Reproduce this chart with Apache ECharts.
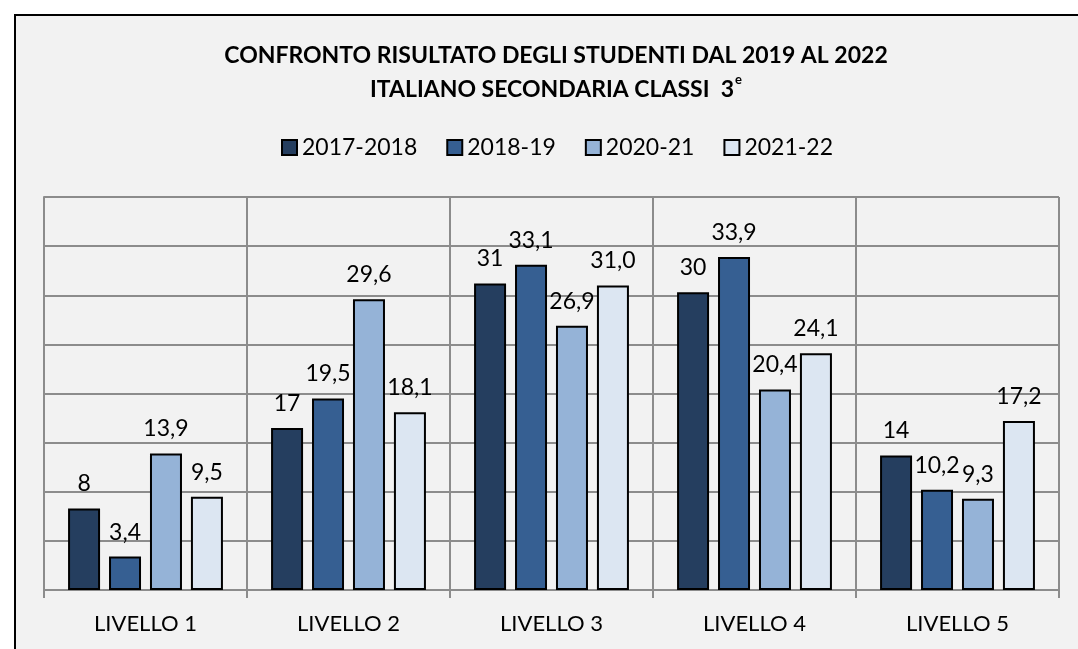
<!DOCTYPE html>
<html>
<head>
<meta charset="utf-8">
<script src="https://cdn.jsdelivr.net/npm/echarts@6/dist/echarts.min.js"></script>
<style>
html, body { margin: 0; padding: 0; background: #ffffff; }
#chart { width: 1078px; height: 649px; }
</style>
</head>
<body>
<div id="chart"></div>
<script>
const categories = ['LIVELLO 1', 'LIVELLO 2', 'LIVELLO 3', 'LIVELLO 4', 'LIVELLO 5']
const seriesNames = ['2017-2018', '2018-19', '2020-21', '2021-22']
const anno1718 = [8.3, 16.5, 31.2, 30.3, 13.7]
const anno1819 = [3.4, 19.5, 33.1, 33.9, 10.2]
const anno2021 = [13.9, 29.6, 26.9, 20.4, 9.3]
const anno2122 = [9.5, 18.1, 31.0, 24.1, 17.2]
const colors = ['#253e5f', '#365f92', '#95b3d7', '#dce6f2']

const values = [anno1718, anno1819, anno2021, anno2122]
const font = 'Lato, "Open Sans", sans-serif'

// la prima serie mostra valori interi, le altre un decimale con la virgola
function fmtLabel(idx, v) {
	if (idx === 0) return String(Math.round(v))
	return v.toFixed(1).replace('.', ',')
}

const chart = echarts.init(document.getElementById('chart'))
chart.setOption({
	backgroundColor: '#ffffff',
	animation: false,
	graphic: [{
		type: 'rect',
		z: -10,
		shape: { x: 15, y: 15, width: 1200, height: 800 },
		style: { fill: '#f2f2f2', stroke: '#000000', lineWidth: 2 }
	}],
	title: {
		text: 'CONFRONTO RISULTATO DEGLI STUDENTI DAL 2019 AL 2022\nITALIANO SECONDARIA CLASSI  3{sup|e}',
		left: 551,
		textAlign: 'center',
		top: 34,
		textStyle: {
			fontFamily: font,
			fontSize: 23,
			fontWeight: 'bold',
			color: '#000000',
			lineHeight: 34,
			rich: {
				sup: {
					fontFamily: font,
					fontSize: 13,
					fontWeight: 'bold',
					color: '#000000',
					verticalAlign: 'top',
					padding: [0, 0, 12, 1]
				}
			}
		}
	},
	legend: {
		top: 131,
		left: 276,
		itemWidth: 15,
		itemHeight: 15,
		itemGap: 29,
		icon: 'rect',
		textStyle: { fontFamily: font, fontSize: 23, color: '#000000', padding: [0, 0, 0, 0] },
		data: seriesNames
	},
	grid: { left: 44, right: 19, top: 197, bottom: 59, containLabel: false },
	xAxis: {
		type: 'category',
		data: categories,
		axisLine: { lineStyle: { color: '#8c8c8c', width: 2 } },
		axisTick: { show: true, interval: 0, length: 8, lineStyle: { color: '#8c8c8c', width: 2 } },
		splitLine: { show: true, interval: 0, lineStyle: { color: '#8c8c8c', width: 2 } },
		axisLabel: { fontFamily: font, fontSize: 22, color: '#000000', margin: 23 }
	},
	yAxis: {
		type: 'value',
		min: 0,
		max: 40,
		interval: 5,
		axisLine: { show: true, lineStyle: { color: '#8c8c8c', width: 2 } },
		axisTick: { show: false },
		axisLabel: { show: false },
		splitLine: { show: true, lineStyle: { color: '#8c8c8c', width: 2 } }
	},
	series: seriesNames.map((name, i) => ({
		name: name,
		type: 'bar',
		data: values[i],
		barWidth: 32,
		barGap: '28%',
		itemStyle: { color: colors[i], borderColor: '#000000', borderWidth: 2 },
		label: {
			show: true,
			position: 'top',
			distance: 13,
			fontFamily: font,
			fontSize: 23,
			color: '#000000',
			formatter: p => fmtLabel(i, p.value)
		}
	}))
})
</script>
</body>
</html>
